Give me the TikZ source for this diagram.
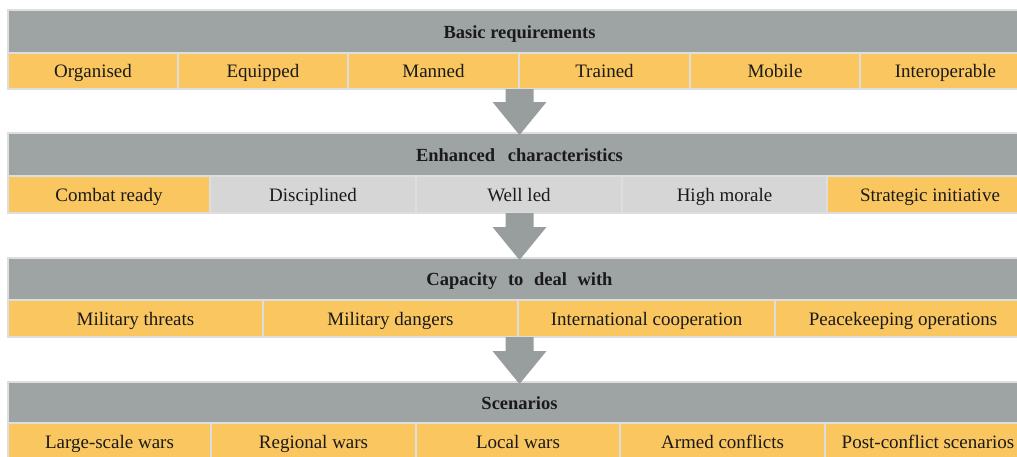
\documentclass[tikz,border=0pt]{standalone}
\usepackage{fontspec}
\setmainfont{Liberation Serif}
\usetikzlibrary{calc}
\definecolor{hdr}{HTML}{9EA3A3}
\definecolor{org}{HTML}{FAC660}
\definecolor{lgr}{HTML}{D6D6D6}
\definecolor{sep}{HTML}{DEDEDE}
\definecolor{arrg}{HTML}{989D9D}
\definecolor{ink}{HTML}{1A1A1A}
\tikzset{
  cell/.style={draw=sep, line width=1.6pt, inner sep=0pt, outer sep=0pt,
    text height=13pt, text depth=0pt, anchor=north west, text=ink,
    font=\fontsize{19}{22}\selectfont},
  ocell/.style={cell, fill=org},
  gcell/.style={cell, fill=lgr},
  hcell/.style={cell, fill=hdr, font=\fontsize{18.5}{22}\selectfont\bfseries},
  blockarrow/.style={fill=arrg}
}
\newcommand{\cellnode}[7]{%
  \node[#2, minimum width={(#4-#3)*1pt}, minimum height={(#6-#5)*1pt}] (#1) at (#3,#5) {#7};}
\newcommand{\blockarr}[2]{%
  \fill[blockarrow] let \p1=(#1.south), \p2=(#2.north) in
    (\x2-14pt,\y1) -- (\x2+14pt,\y1) -- (\x2+14pt,\y2+31pt) -- (\x2+27pt,\y2+31pt)
    -- (\x2,\y2-2pt) -- (\x2-27pt,\y2+31pt) -- (\x2-14pt,\y2+31pt) -- cycle;}
\begin{document}
\begin{tikzpicture}[x=1pt,y=-1pt]
\useasboundingbox (0,0) rectangle (1017,456);
\clip (0,0) rectangle (1017,456);
% Row 1
\cellnode{h1}{hcell}{8}{1031}{10}{53}{Basic requirements}
\cellnode{a1}{ocell}{8}{178}{53}{89}{Organised}
\cellnode{a2}{ocell}{178}{348}{53}{89}{Equipped}
\cellnode{a3}{ocell}{348}{519}{53}{89}{Manned}
\cellnode{a4}{ocell}{519}{690}{53}{89}{Trained}
\cellnode{a5}{ocell}{690}{860}{53}{89}{Mobile}
\cellnode{a6}{ocell}{860}{1031}{53}{89}{Interoperable}
% Row 2
\cellnode{h2}{hcell}{8}{1031}{133}{176}{Enhanced\hspace{8pt} characteristics}
\cellnode{b1}{ocell}{8}{210}{176}{213}{Combat ready}
\cellnode{b2}{gcell}{210}{416}{176}{213}{Disciplined}
\cellnode{b3}{gcell}{416}{622}{176}{213}{Well led}
\cellnode{b4}{gcell}{622}{827}{176}{213}{High morale}
\cellnode{b5}{ocell}{827}{1033}{176}{213}{Strategic initiative}
% Row 3
\cellnode{h3}{hcell}{8}{1031}{258}{300}{Capacity\hspace{6pt} to\hspace{6pt} deal\hspace{6pt} with}
\cellnode{c1}{ocell}{8}{263}{300}{337}{Military threats}
\cellnode{c2}{ocell}{263}{518}{300}{337}{Military dangers}
\cellnode{c3}{ocell}{518}{775}{300}{337}{International cooperation}
\cellnode{c4}{ocell}{775}{1031}{300}{337}{Peacekeeping operations}
% Row 4
\cellnode{h4}{hcell}{8}{1031}{382}{423}{Scenarios}
\cellnode{d1}{ocell}{8}{211}{423}{460}{Large-scale wars}
\cellnode{d2}{ocell}{211}{416}{423}{460}{Regional wars}
\cellnode{d3}{ocell}{416}{620}{423}{460}{Local wars}
\cellnode{d4}{ocell}{620}{825}{423}{460}{Armed conflicts}
\cellnode{d5}{ocell}{825}{1031}{423}{460}{Post-conflict scenarios}
% Arrows
\blockarr{a4}{h2}
\blockarr{b3}{h3}
\blockarr{c3}{h4}
\end{tikzpicture}
\end{document}
